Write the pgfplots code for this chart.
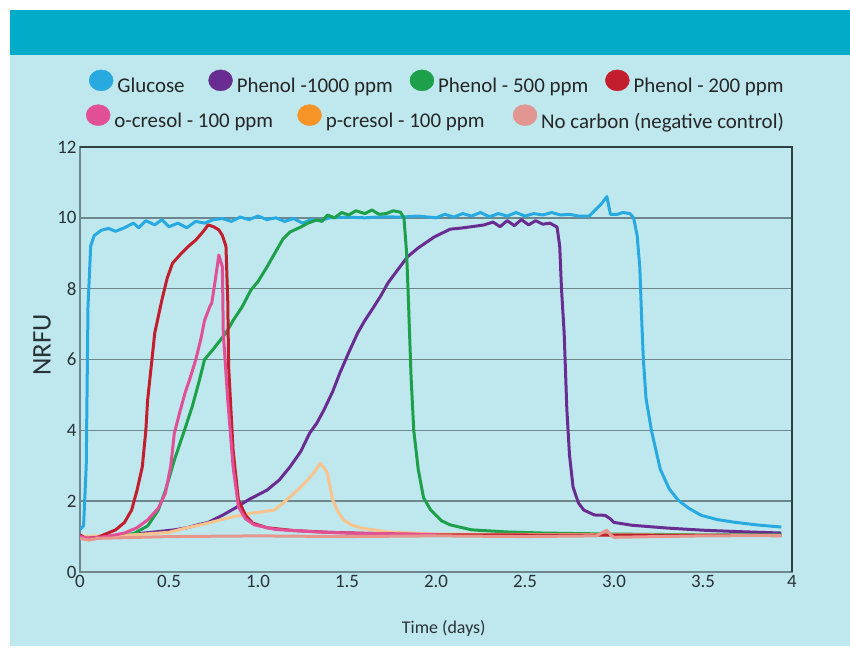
\documentclass[border=0pt]{standalone}
\usepackage{pgfplots}
\pgfplotsset{compat=1.18}
\usepackage{fontspec}
\setmainfont{Carlito}

\definecolor{panel}{RGB}{190,232,238}
\definecolor{band}{RGB}{0,172,200}
\definecolor{gridc}{RGB}{110,135,140}
\definecolor{boxc}{RGB}{45,65,70}
\definecolor{tickc}{RGB}{40,50,55}
\definecolor{glc}{RGB}{40,170,225}
\definecolor{phA}{RGB}{105,45,145}
\definecolor{phB}{RGB}{30,160,75}
\definecolor{phC}{RGB}{195,30,45}
\definecolor{ocr}{RGB}{225,80,150}
\definecolor{pcr}{RGB}{248,195,140}
\definecolor{pcrdot}{RGB}{247,148,40}
\definecolor{noc}{RGB}{232,150,140}
\definecolor{nocdot}{RGB}{225,150,145}

\pgfplotsset{
  legaxis/.style={
    at={(80bp,81bp)}, anchor=south west, scale only axis,
    width=712bp, height=425bp, hide axis,
    xmin=0, xmax=1, ymin=0, ymax=1,
    legend image code/.code={\fill[##1] (0bp,6bp) ellipse [x radius=12bp, y radius=10.5bp];},
    legend columns=-1,
    legend style={draw=none, fill=none, inner sep=0pt, outer sep=0pt,
      font=\fontsize{21}{24}\selectfont, text=black!85,
      nodes={inner sep=0pt},
      /tikz/every odd column/.style={column sep=4bp}},
  },
}

\begin{document}
\begin{tikzpicture}
\fill[white] (0bp,0bp) rectangle (850bp,653bp);
\fill[panel] (10bp,7bp) rectangle (850bp,598bp);
\fill[band] (10bp,598bp) rectangle (850bp,643bp);

\begin{axis}[
  at={(80bp,81bp)}, anchor=south west, scale only axis,
  width=712bp, height=425bp,
  xmin=0, xmax=4, ymin=0, ymax=12,
  xtick={0,0.5,...,4}, xticklabels={0,0.5,1.0,1.5,2.0,2.5,3.0,3.5,4},
  ytick={0,2,...,12},
  ymajorgrids, grid style={gridc, line width=1.5bp},
  major tick length=0pt,
  axis line style={gridc, line width=1.5bp},
  tick label style={font=\fontsize{19}{22}\selectfont, text=tickc},
  /pgf/number format/assume math mode=true,
  xlabel={Time (days)}, ylabel={NRFU},
  xlabel style={at={(axis description cs:0.511,-0.132)}, anchor=center,
    font=\fontsize{18}{21}\selectfont, text=tickc},
  ylabel style={at={(axis description cs:-0.0534,0.534)}, anchor=center,
    font=\fontsize{27}{30}\selectfont, text=tickc},
  clip mode=individual,
  every axis plot/.append style={line width=3bp, line join=round},
]
% Glucose
\addplot[glc] coordinates {
(0.0,1.2) (0.02,1.3) (0.035,3.0) (0.045,7.5) (0.06,9.2) (0.08,9.5)
(0.12,9.65) (0.16,9.7) (0.2,9.62) (0.25,9.72) (0.3,9.85) (0.33,9.72)
(0.37,9.92) (0.42,9.8) (0.46,9.95) (0.5,9.75) (0.55,9.85) (0.6,9.72)
(0.65,9.9) (0.7,9.85) (0.75,9.95) (0.8,9.98) (0.85,9.9) (0.9,10.02)
(0.95,9.95) (1.0,10.05) (1.05,9.95) (1.1,10.0) (1.15,9.9) (1.2,9.98)
(1.25,9.85) (1.3,9.95) (1.35,9.92) (1.4,10.0) (1.5,10.02) (1.6,10.0)
(1.7,10.03) (1.8,10.02) (1.9,10.05) (2.0,10.0) (2.05,10.1) (2.1,10.02)
(2.15,10.12) (2.2,10.05) (2.25,10.15) (2.3,10.03) (2.35,10.12) (2.4,10.05)
(2.45,10.15) (2.5,10.05) (2.55,10.12) (2.6,10.08) (2.65,10.15) (2.7,10.08)
(2.75,10.1) (2.8,10.05) (2.86,10.05) (2.9,10.25) (2.93,10.4) (2.96,10.6)
(2.98,10.1) (3.02,10.1) (3.05,10.15) (3.09,10.12) (3.11,10.0) (3.13,9.5)
(3.145,8.6) (3.155,7.2) (3.165,6.0) (3.18,4.9) (3.21,4.0) (3.26,2.9) (3.31,2.35)
(3.36,2.03) (3.42,1.8) (3.49,1.6) (3.58,1.48) (3.67,1.41) (3.8,1.33) (3.94,1.27)
};
% Phenol 1000 ppm
\addplot[phA] coordinates {
(0,1.0) (0.1,0.98) (0.2,1.02) (0.3,1.07) (0.4,1.12) (0.53,1.19) (0.6,1.25)
(0.675,1.35) (0.72,1.4) (0.8,1.6) (0.87,1.8) (0.95,2.05) (1.05,2.31)
(1.12,2.6) (1.18,2.97) (1.24,3.4) (1.29,3.92) (1.33,4.2) (1.37,4.57)
(1.42,5.1) (1.46,5.62) (1.51,6.2) (1.56,6.75) (1.6,7.1) (1.65,7.48)
(1.69,7.8) (1.73,8.16) (1.78,8.5) (1.84,8.9) (1.9,9.15) (1.99,9.46)
(2.08,9.68) (2.14,9.71) (2.2,9.75) (2.27,9.8) (2.32,9.88) (2.36,9.75)
(2.4,9.92) (2.44,9.78) (2.48,9.95) (2.52,9.8) (2.56,9.92) (2.6,9.82)
(2.64,9.85) (2.68,9.74) (2.695,9.2) (2.705,8.0) (2.72,6.75) (2.735,4.6)
(2.75,3.3) (2.77,2.4) (2.8,1.95) (2.83,1.75) (2.89,1.61) (2.95,1.6)
(2.98,1.5) (3.0,1.4) (3.1,1.32) (3.3,1.24) (3.5,1.18) (3.7,1.14) (3.94,1.1)
};
% Phenol 500 ppm
\addplot[phB] coordinates {
(0,1.0) (0.2,1.0) (0.3,1.08) (0.38,1.3) (0.44,1.75) (0.48,2.3) (0.53,3.16)
(0.58,3.9) (0.63,4.66) (0.67,5.4) (0.7,6.0) (0.75,6.3) (0.82,6.75)
(0.86,7.1) (0.91,7.48) (0.96,7.96) (1.0,8.2) (1.05,8.61) (1.1,9.05)
(1.14,9.4) (1.18,9.6) (1.24,9.74) (1.28,9.85) (1.33,9.94) (1.36,9.9)
(1.39,10.08) (1.43,10.0) (1.47,10.15) (1.51,10.08) (1.55,10.2) (1.6,10.12)
(1.64,10.22) (1.68,10.1) (1.72,10.12) (1.76,10.2) (1.8,10.16) (1.82,10.0)
(1.835,9.0) (1.845,7.68) (1.86,5.5) (1.875,4.0) (1.9,2.9) (1.93,2.1)
(1.97,1.75) (2.03,1.45) (2.08,1.33) (2.2,1.19) (2.4,1.13) (2.6,1.1)
(3.0,1.07) (3.5,1.05) (3.94,1.05)
};
% p-cresol 100 ppm
\addplot[pcr] coordinates {
(0,1.0) (0.3,1.05) (0.5,1.12) (0.6,1.25) (0.675,1.33) (0.75,1.42)
(0.86,1.56) (0.96,1.66) (1.03,1.7) (1.09,1.75) (1.13,1.9) (1.18,2.12)
(1.23,2.35) (1.28,2.6) (1.32,2.85) (1.35,3.07) (1.37,2.95) (1.39,2.79)
(1.42,2.03) (1.45,1.7) (1.48,1.47) (1.53,1.32) (1.58,1.24) (1.73,1.13)
(2.0,1.07) (3.94,1.03)
};
% Phenol 200 ppm
\addplot[phC] coordinates {
(0,1.05) (0.03,0.95) (0.1,0.98) (0.2,1.19) (0.25,1.4) (0.29,1.75)
(0.32,2.3) (0.35,2.97) (0.37,4.0) (0.38,4.86) (0.40,5.8) (0.42,6.75)
(0.46,7.68) (0.49,8.3) (0.52,8.72) (0.57,9.0) (0.61,9.2) (0.65,9.37)
(0.69,9.6) (0.72,9.8) (0.75,9.75) (0.78,9.66) (0.80,9.5) (0.82,9.2)
(0.83,7.68) (0.835,5.79) (0.86,3.44) (0.89,2.03) (0.93,1.6) (0.97,1.38)
(1.05,1.25) (1.2,1.17) (1.4,1.12) (1.7,1.08) (2.0,1.05) (3.94,1.03)
};
% o-cresol 100 ppm
\addplot[ocr] coordinates {
(0,1.0) (0.05,0.95) (0.15,1.0) (0.25,1.1) (0.32,1.25) (0.38,1.47)
(0.44,1.8) (0.48,2.23) (0.51,3.0) (0.53,3.92) (0.56,4.5) (0.59,5.05)
(0.62,5.5) (0.65,5.99) (0.68,6.6) (0.70,7.11) (0.73,7.5) (0.74,7.59)
(0.76,8.24) (0.78,8.95) (0.80,8.61) (0.805,6.75) (0.83,4.86) (0.86,2.97)
(0.89,1.84) (0.93,1.5) (0.98,1.33) (1.1,1.2) (1.3,1.14) (1.5,1.1)
(1.8,1.07) (2.0,1.06)
};
% No carbon
\addplot[noc] coordinates {
(0,0.95) (0.05,0.9) (0.1,0.95) (0.5,1.0) (1.0,1.02) (1.5,1.0) (2.0,1.02)
(2.5,1.0) (2.9,1.02) (2.93,1.1) (2.96,1.18) (2.98,1.05) (3.0,0.98)
(3.5,1.02) (3.94,1.03)
};
\draw[boxc, line width=1.5bp] (rel axis cs:0,1) -- (rel axis cs:1,1) -- (rel axis cs:1,0);
\end{axis}

% legend, first row
\begin{axis}[legaxis,
  legend style={at={(axis description cs:0.0126,1.1529)}, anchor=west}]
\addlegendimage{glc}
\addlegendentry{\makebox[91bp][l]{Glucose}}
\addlegendimage{phA}
\addlegendentry{\makebox[173bp][l]{Phenol -1000 ppm}}
\addlegendimage{phB}
\addlegendentry{\makebox[167bp][l]{Phenol - 500 ppm}}
\addlegendimage{phC}
\addlegendentry{Phenol - 200 ppm}
\end{axis}

% legend, second row
\begin{axis}[legaxis,
  legend style={at={(axis description cs:0.0084,1.0706)}, anchor=west}]
\addlegendimage{ocr}
\addlegendentry{\makebox[183bp][l]{o-cresol - 100 ppm}}
\addlegendimage{pcrdot}
\addlegendentry{\makebox[187bp][l]{p-cresol - 100 ppm}}
\addlegendimage{nocdot}
\addlegendentry{No carbon (negative control)}
\end{axis}
\end{tikzpicture}
\end{document}
